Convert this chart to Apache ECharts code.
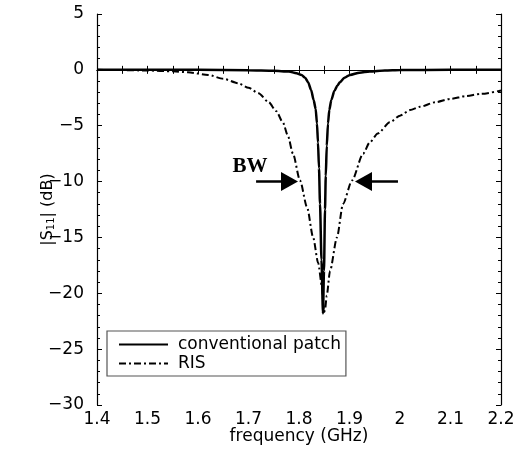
<!DOCTYPE html>
<html>
<head>
<meta charset="utf-8">
<script src="https://cdn.jsdelivr.net/npm/echarts@6/dist/echarts.min.js"></script>
<style>
html,body{margin:0;padding:0;background:#fff;}
#chart{width:521px;height:450px;}
</style>
</head>
<body>
<div id="chart"></div>
<script>
// ---- data ----
const seriesNames = ['conventional patch', 'RIS'];

const freqConv = [1.40, 1.50, 1.60, 1.70, 1.75, 1.78, 1.795, 1.805, 1.812, 1.818, 1.824, 1.829, 1.833, 1.8356, 1.8376, 1.8396, 1.8416, 1.8445, 1.8475, 1.8495, 1.8515, 1.853, 1.855, 1.8574, 1.860, 1.864, 1.870, 1.876, 1.881, 1.890, 1.901, 1.920, 1.940, 1.970, 2.000, 2.100, 2.200];
const s11Conv  = [0, 0, 0, -0.03, -0.08, -0.15, -0.3, -0.45, -0.7, -1.1, -1.8, -2.7, -3.5, -4.8, -6.5, -8.8, -12.0, -17.0, -21.8, -18.0, -12.5, -9.5, -6.8, -4.8, -3.6, -2.7, -1.9, -1.4, -1.1, -0.7, -0.45, -0.25, -0.15, -0.06, -0.02, 0, 0];

const freqRIS = [1.40, 1.45, 1.50, 1.55, 1.58, 1.62, 1.65, 1.68, 1.70, 1.72, 1.74, 1.755, 1.768, 1.778, 1.788, 1.802, 1.816, 1.828, 1.838, 1.8455, 1.8495, 1.8515, 1.855, 1.8614, 1.8752, 1.8871, 1.905, 1.927, 1.940, 1.956, 1.980, 2.000, 2.020, 2.040, 2.070, 2.100, 2.130, 2.160, 2.200];
const s11RIS  = [0, -0.02, -0.06, -0.13, -0.22, -0.45, -0.8, -1.2, -1.6, -2.1, -2.9, -3.7, -4.7, -5.9, -7.5, -9.9, -12.3, -15.0, -17.3, -19.4, -21.7, -21.5, -20.2, -18.0, -15.0, -12.0, -9.9, -7.5, -6.5, -5.7, -4.7, -4.1, -3.6, -3.3, -2.9, -2.6, -2.35, -2.15, -1.85];

const xAxisRange = [1.4, 2.2], xStep = 0.1;
const yAxisRange = [-30, 5], yStep = 5;

// BW annotation (data coordinates)
const bwLevel = -10;
const bwLeftArrow = [1.715, 1.7812];   // tail, arrow-head centre
const bwRightArrow = [1.996, 1.9277];  // tail, arrow-head centre
const bwLabelPos = [1.703, -8.7];
const bwText = 'BW';

// ---- chart ----
const zip = (xs, ys) => xs.map((x, i) => [x, ys[i]]);
const font = 'DejaVu Sans';
const minus = v => String(v).replace('-', '\u2212');

const baseAxis = {
  axisLine: { show: true, lineStyle: { color: '#000', width: 1.2 } },
  axisTick: { show: true, inside: true, length: 5, lineStyle: { color: '#000', width: 1 } },
  minorTick: { show: true, length: 3, lineStyle: { color: '#000', width: 1 } },
  splitLine: { show: false },
};

const chart = echarts.init(document.getElementById('chart'), null, { renderer: 'canvas' });
chart.setOption({
  backgroundColor: '#fff',
  animation: false,
  grid: { left: 97, right: 20, top: 14, bottom: 44, containLabel: false },
  legend: {
    orient: 'vertical',
    left: 107, top: 331,
    padding: [5, 5, 4, 11],
    itemWidth: 49, itemHeight: 14, itemGap: 2,
    borderColor: '#555', borderWidth: 1.2,
    backgroundColor: '#fff',
    itemStyle: { opacity: 0 },
    textStyle: { fontFamily: font, fontSize: 17, color: '#000', padding: [0, 0, 0, 5] },
    data: seriesNames,
  },
  xAxis: [
    Object.assign({}, baseAxis, {
      type: 'value', min: xAxisRange[0], max: xAxisRange[1], interval: xStep,
      minorTick: Object.assign({}, baseAxis.minorTick, { splitNumber: 2, length: 4 }),
      axisTick: Object.assign({}, baseAxis.axisTick, { length: 4 }),
      axisLabel: { fontFamily: font, fontSize: 17, color: '#000', margin: 6 },
      name: 'frequency (GHz)', nameLocation: 'middle', nameGap: 23, nameMoveOverlap: false,
      nameTextStyle: { fontFamily: font, fontSize: 17, color: '#000', verticalAlign: 'top' },
    }),
    Object.assign({}, baseAxis, {
      type: 'value', position: 'top', min: xAxisRange[0], max: xAxisRange[1], interval: xStep,
      minorTick: Object.assign({}, baseAxis.minorTick, { splitNumber: 2, length: 4 }),
      axisTick: Object.assign({}, baseAxis.axisTick, { length: 4 }),
      axisLabel: { show: false },
    }),
  ],
  yAxis: [
    Object.assign({}, baseAxis, {
      type: 'value', min: yAxisRange[0], max: yAxisRange[1], interval: yStep,
      minorTick: Object.assign({}, baseAxis.minorTick, { splitNumber: 5 }),
      axisLabel: { fontFamily: font, fontSize: 17, color: '#000', margin: 13, formatter: minus },
      name: '|S{sub|11}| (dB)', nameLocation: 'middle', nameGap: 41, nameMoveOverlap: false,
      nameTextStyle: {
        fontFamily: font, fontSize: 16, color: '#000',
        rich: { sub: { fontFamily: font, fontSize: 10, color: '#000', verticalAlign: 'bottom', lineHeight: 10, padding: [6, 0, 0, 0] } },
      },
    }),
    Object.assign({}, baseAxis, {
      type: 'value', position: 'right', min: yAxisRange[0], max: yAxisRange[1], interval: yStep,
      minorTick: Object.assign({}, baseAxis.minorTick, { splitNumber: 5 }),
      axisLabel: { show: false },
    }),
  ],
  series: [
    {
      name: seriesNames[0], type: 'line', xAxisIndex: 0, yAxisIndex: 0,
      data: zip(freqConv, s11Conv), symbol: 'none', showSymbol: false,
      smooth: 0.25, smoothMonotone: 'x',
      lineStyle: { color: '#000', width: 2.5, type: 'solid' },
      itemStyle: { color: '#000' }, z: 3,
      markLine: {
        silent: true, animation: false,
        symbol: ['none', 'triangle'], symbolSize: [19, 17],
        lineStyle: { color: '#000', width: 2.5, type: 'solid' },
        label: { show: false },
        data: [
          [{ coord: [bwLeftArrow[0], bwLevel] }, { coord: [bwLeftArrow[1], bwLevel] }],
          [{ coord: [bwRightArrow[0], bwLevel] }, { coord: [bwRightArrow[1], bwLevel] }],
        ],
      },
      markPoint: {
        silent: true, animation: false,
        symbol: 'circle', symbolSize: 1, itemStyle: { color: 'rgba(0,0,0,0)' },
        label: { show: true, position: 'inside', formatter: bwText, fontFamily: 'Liberation Serif', fontWeight: 'bold', fontSize: 21, color: '#000' },
        data: [{ coord: bwLabelPos }],
      },
    },
    {
      name: seriesNames[1], type: 'line', xAxisIndex: 0, yAxisIndex: 0,
      data: zip(freqRIS, s11RIS), symbol: 'none', showSymbol: false,
      smooth: 0.25, smoothMonotone: 'x',
      lineStyle: { color: '#000', width: 2, type: [7, 3, 2, 3] },
      itemStyle: { color: '#000' }, z: 2,
    },
  ],
});
</script>
</body>
</html>
